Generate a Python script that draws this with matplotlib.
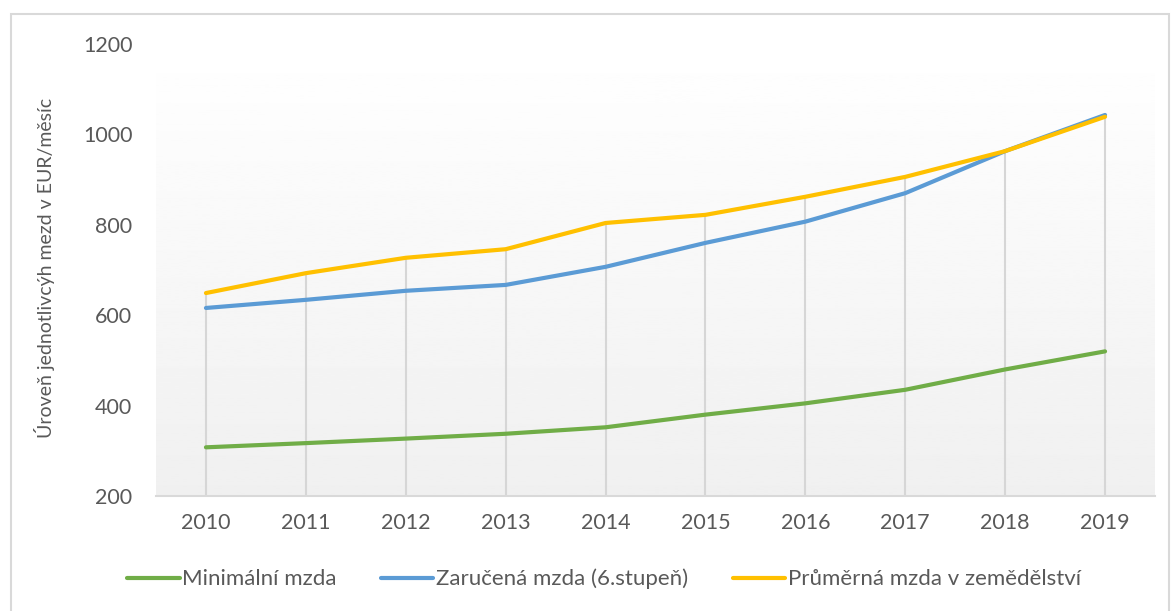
import numpy as np
import matplotlib
matplotlib.use('Agg')
import matplotlib.pyplot as plt
from matplotlib.patches import Rectangle

plt.rcParams['font.family'] = ['Lato', 'DejaVu Sans']

# data
years = ['2010', '2011', '2012', '2013', '2014', '2015', '2016', '2017', '2018', '2019']
minimalni = [307.7, 317, 327, 337.7, 352, 380, 405, 435, 480, 520]
zarucena = [616, 634, 654, 667, 707, 760, 807, 870, 963, 1043]
prumerna = [649, 693, 727, 746, 804, 822, 862, 906, 963, 1039]
labels = ['Minimální mzda', 'Zaručená mzda (6.stupeň)', 'Průměrná mzda v zemědělství']
colors = ['#70ad47', '#5b9bd5', '#ffc000']
text_col = '#595959'

W, H = 1172, 611
fig = plt.figure(figsize=(W / 100, H / 100), dpi=100)

# outer chart border
fig.patches.append(Rectangle((11 / W, -0.01), 1158 / W, (611 - 14) / H + 0.01,
                             transform=fig.transFigure, fill=False,
                             edgecolor='#d9d9d9', linewidth=1.5))

ax = fig.add_axes([156 / W, (611 - 496) / H, (1155 - 156) / W, (496 - 44) / H])
x = np.arange(len(years))

# gradient background (white at top -> light gray at bottom)
grad = np.linspace(1.0, 0.94, 256).reshape(-1, 1)
ax.imshow(grad, extent=(-0.5, 9.5, 200, 1200), cmap='gray', vmin=0, vmax=1,
          aspect='auto', origin='upper', zorder=0)

# drop lines
tops = np.max([minimalni, zarucena, prumerna], axis=0)
ax.vlines(x, 200, tops, color='#d6d6d6', linewidth=1.5, zorder=1)

series = [minimalni, zarucena, prumerna]
for vals, lab, c in zip(series, labels, colors):
    ax.plot(x, vals, color=c, linewidth=3, label=lab, zorder=3,
            solid_capstyle='round')

ax.set_xlim(-0.5, 9.5)
ax.set_ylim(200, 1200)
ax.set_yticks(range(200, 1201, 200))
ax.set_xticks(x)
ax.set_xticklabels(years)
ax.tick_params(axis='both', length=0, labelsize=15.5, labelcolor=text_col)
ax.tick_params(axis='y', pad=17)
ax.tick_params(axis='x', pad=12)
for s in ['top', 'right', 'left']:
    ax.spines[s].set_visible(False)
ax.spines['bottom'].set_color('#d9d9d9')
ax.spines['bottom'].set_linewidth(1.5)

fig.text(45 / W, (611 - 268) / H, 'Úroveň jednotlivcýh mezd v EUR/měsíc',
         rotation=90, ha='center', va='center', fontsize=14, color=text_col)

leg = fig.legend(loc='center', bbox_to_anchor=(604 / W, (611 - 579) / H),
                 ncol=3, frameon=False, fontsize=16, handlelength=2.35,
                 handletextpad=0.12, columnspacing=2.0)
for t in leg.get_texts():
    t.set_color(text_col)

fig.savefig('out.png', dpi=100)
